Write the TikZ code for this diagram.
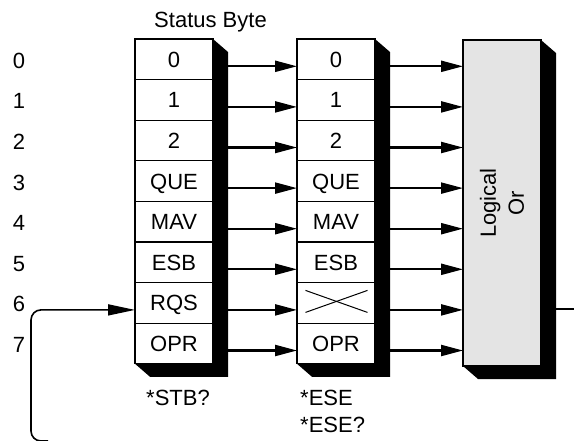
\documentclass[tikz,border=0pt]{standalone}
\usepackage{fontspec}
\setmainfont{Liberation Sans}
\usetikzlibrary{arrows.meta,calc}
\definecolor{orgray}{RGB}{228,228,228}
\begin{document}
\begin{tikzpicture}[x=1pt,y=-1pt,
  lbl/.style={font=\fontsize{22}{28}\selectfont, inner sep=0pt, text height=15.8pt, text depth=0pt},
  cell/.style={lbl, draw, line width=1.1pt, minimum width=78pt, minimum height=40.6pt, fill=white, outer sep=0pt, anchor=center},
  arr/.style={line width=2.2pt, -{Triangle[length=22pt,width=11pt]}},
  fbline/.style={line width=1.6pt, rounded corners=10pt, -{Triangle[length=27pt,width=11pt]}},
  orbox/.style={draw, fill=orgray, line width=1.1pt, minimum width=78pt, minimum height=326pt, outer sep=0pt, inner sep=0pt},
]
\useasboundingbox (0,0) rectangle (574,440);

% left register (Status Byte)
\foreach \t [count=\i from 0] in {0,1,2,QUE,MAV,ESB,RQS,OPR}
  \node[cell] (L\i) at (174, 59.3+40.6*\i) {\t};
% middle register (enable)
\foreach \t [count=\i from 0] in {0,1,2,QUE,MAV,ESB,{},OPR}
  \node[cell] (M\i) at (336, 59.3+40.6*\i) {\t};
% logical or
\node[orbox] (Or) at (502,203) {};
\node[rotate=90, align=center, inner sep=0pt, font=\fontsize{22}{28}\selectfont] (ortext) at (Or.center) {Logical\\Or};

% shadows
\foreach \n in {L,M}
  \fill (\n0.north east) -- ++(15,13) -- ($(\n7.south east)+(15,13)$) -- ($(\n7.south west)+(15,13)$) -- (\n7.south west) -- (\n7.south east) -- cycle;
\fill (Or.north east) -- ++(15,13) -- ($(Or.south east)+(15,13)$) -- ($(Or.south west)+(15,13)$) -- (Or.south west) -- (Or.south east) -- cycle;

% cross in masked bit
\draw[line width=1pt] ($(M6.center)+(-30.5,-12.5)$) -- ($(M6.center)+(31.5,9.5)$);
\draw[line width=1pt] ($(M6.center)+(-30.5,9.5)$) -- ($(M6.center)+(31.5,-12.5)$);

% bit numbers
\foreach \i in {0,...,7}
  \node[lbl] (b\i) at (19, 60.3+40.6*\i) {\i};

% arrows
\foreach \i in {0,...,7} {
  \coordinate (o\i) at (Or.west |- M\i.east);
  \draw[arr] ($(L\i.east)+(15,7)$) -- ($(M\i.west)+(0,7)$);
  \draw[arr] ($(M\i.east)+(15,7)$) -- ($(o\i)+(0,7)$);
}

% feedback loop
\coordinate (fbstart) at (48,441);
\coordinate (fbx) at (31,441);
\draw[fbline] (fbstart) -- (fbx) |- ($(L6.west)+(0,7)$);

% output
\coordinate (outEnd) at (577,0);
\draw[line width=1.6pt] ($(Or.east |- o6)+(15,6)$) -- ($(outEnd |- o6)+(0,6)$);

% texts
\node[lbl, anchor=base] (sb) at (210.5,27) {Status Byte};
\node[lbl, anchor=base west] (stb) at (146,405) {*STB?};
\node[lbl, anchor=base west] (ese) at (300,405) {*ESE};
\node[lbl, anchor=base west] (eseq) at (300,432) {*ESE?};
\end{tikzpicture}
\end{document}
